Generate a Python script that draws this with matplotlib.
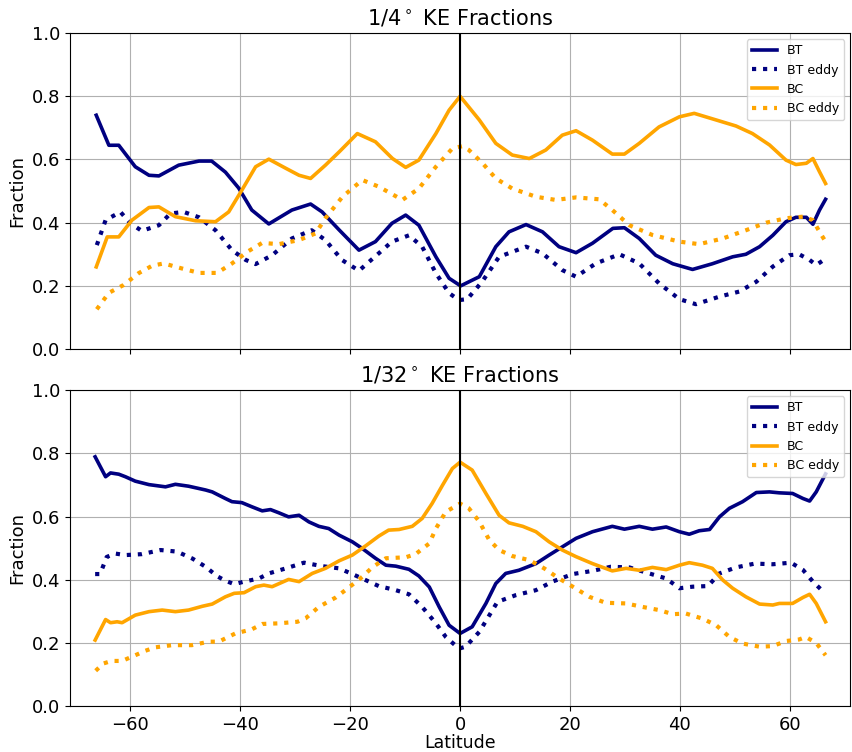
import matplotlib
matplotlib.use('Agg')
import matplotlib.pyplot as plt
import numpy as np

# ---- 1/4 degree run ----
lat_bt_q = [-66.2, -63.9, -62.1, -59.1, -56.6, -54.8, -51.2, -47.5, -45.2, -42.7, -40.3, -37.9,
            -34.8, -30.6, -27.2, -25.1, -22.0, -18.4, -15.4, -12.4, -9.9, -7.5, -4.4, -2.0, 0.1,
            3.5, 6.5, 8.9, 12.0, 15.0, 18.0, 21.1, 24.1, 27.8, 29.9, 32.6, 35.6, 38.7, 42.3,
            45.9, 49.6, 52.0, 54.5, 56.9, 59.3, 61.1, 63.0, 64.2, 65.4, 66.5]
bt_q = [0.74, 0.645, 0.645, 0.577, 0.55, 0.548, 0.582, 0.595, 0.595, 0.56, 0.51, 0.44,
        0.396, 0.44, 0.459, 0.434, 0.377, 0.313, 0.34, 0.398, 0.424, 0.392, 0.292, 0.224, 0.2,
        0.229, 0.324, 0.371, 0.394, 0.371, 0.324, 0.305, 0.335, 0.382, 0.384, 0.35, 0.297, 0.27, 0.252,
        0.27, 0.292, 0.3, 0.324, 0.36, 0.403, 0.417, 0.417, 0.395, 0.44, 0.474]

lat_bte_q = [-66.1, -64.5, -61.8, -60.0, -57.9, -54.8, -52.7, -50.3, -47.5, -44.5, -41.5, -39.0,
             -37.2, -34.2, -30.6, -27.0, -24.5, -21.5, -18.4, -14.8, -12.4, -9.3, -6.9, -4.4, -2.0,
             -0.2, 1.3, 4.0, 7.1, 12.0, 15.0, 18.6, 21.1, 24.7, 29.0, 32.6, 36.2, 39.9, 42.9,
             47.2, 50.8, 53.9, 56.9, 59.9, 61.7, 63.6, 64.8, 66.0]
bte_q = [0.329, 0.408, 0.434, 0.398, 0.374, 0.392, 0.429, 0.434, 0.417, 0.376, 0.313, 0.282,
         0.269, 0.297, 0.35, 0.376, 0.345, 0.282, 0.248, 0.303, 0.34, 0.36, 0.324, 0.24, 0.177,
         0.155, 0.158, 0.213, 0.292, 0.324, 0.303, 0.25, 0.229, 0.271, 0.3, 0.271, 0.208, 0.158, 0.142,
         0.166, 0.182, 0.213, 0.261, 0.297, 0.3, 0.282, 0.266, 0.28]

lat_bc_q = [-66.2, -64.2, -62.1, -59.7, -56.6, -54.8, -51.8, -48.1, -44.5, -42.1, -39.7, -37.2,
            -34.8, -31.7, -29.3, -27.2, -24.5, -22.0, -18.7, -15.4, -12.3, -9.9, -7.5, -4.4, -2.0,
            0.0, 3.5, 6.5, 9.5, 12.6, 15.6, 18.6, 21.1, 24.1, 27.7, 29.9, 32.6, 36.2, 39.9, 42.6,
            46.6, 50.2, 53.2, 56.3, 59.3, 61.1, 63.0, 64.2, 65.4, 66.5]
bc_q = [0.26, 0.355, 0.355, 0.408, 0.448, 0.45, 0.419, 0.406, 0.403, 0.434, 0.503, 0.577,
        0.601, 0.572, 0.55, 0.54, 0.582, 0.624, 0.682, 0.656, 0.603, 0.575, 0.598, 0.682, 0.756,
        0.80, 0.725, 0.651, 0.614, 0.603, 0.63, 0.677, 0.691, 0.661, 0.617, 0.617, 0.651, 0.703, 0.735, 0.746,
        0.725, 0.706, 0.682, 0.646, 0.598, 0.584, 0.588, 0.603, 0.561, 0.524]

lat_bce_q = [-66.1, -63.9, -61.2, -58.5, -56.0, -53.9, -50.6, -47.5, -44.2, -41.5, -38.7, -36.0,
             -33.0, -29.3, -26.3, -24.5, -21.4, -17.8, -14.8, -10.5, -7.5, -4.4, -1.4, 0.4,
             1.6, 4.1, 6.5, 9.5, 13.8, 17.4, 21.1, 25.3, 27.7, 30.8, 35.0, 39.9, 43.5,
             47.8, 52.0, 55.7, 59.3, 62.4, 64.2, 65.4, 66.5]
bce_q = [0.126, 0.178, 0.203, 0.24, 0.264, 0.271, 0.255, 0.241, 0.241, 0.271, 0.308, 0.336,
         0.332, 0.345, 0.366, 0.414, 0.482, 0.535, 0.514, 0.472, 0.508, 0.577, 0.635, 0.642,
         0.63, 0.588, 0.54, 0.508, 0.482, 0.472, 0.48, 0.474, 0.44, 0.392, 0.361, 0.34, 0.332,
         0.35, 0.376, 0.4, 0.414, 0.419, 0.408, 0.371, 0.34]

# ---- 1/32 degree run ----
lat_bt_t = [-66.4, -64.5, -63.6, -62.1, -60.9, -59.1, -56.6, -53.6, -51.8, -49.4, -46.3, -45.1,
            -42.7, -41.5, -39.7, -37.9, -36.0, -34.5, -33.0, -31.2, -29.3, -27.5, -25.7, -23.9,
            -22.0, -19.6, -17.8, -15.4, -13.5, -11.7, -9.3, -7.5, -5.6, -3.8, -2.0, 0.0,
            2.2, 4.7, 6.5, 8.3, 10.7, 13.8, 16.2, 18.6, 21.1, 24.1, 27.7, 29.9, 32.6, 35.0, 37.5,
            39.9, 41.7, 43.5, 45.4, 47.2, 49.0, 51.4, 53.9, 56.3, 58.1, 60.5, 62.4, 63.6, 64.8, 66.5]
bt_t = [0.789, 0.726, 0.738, 0.734, 0.726, 0.712, 0.701, 0.694, 0.702, 0.696, 0.684, 0.678,
        0.657, 0.647, 0.644, 0.631, 0.618, 0.622, 0.612, 0.599, 0.604, 0.583, 0.569, 0.562,
        0.541, 0.52, 0.499, 0.468, 0.446, 0.443, 0.433, 0.412, 0.377, 0.314, 0.256, 0.23,
        0.251, 0.325, 0.388, 0.42, 0.43, 0.451, 0.478, 0.504, 0.531, 0.552, 0.569, 0.56, 0.569, 0.56, 0.567,
        0.552, 0.544, 0.555, 0.559, 0.599, 0.626, 0.647, 0.676, 0.678, 0.675, 0.673, 0.657, 0.649, 0.678, 0.735]

lat_bte_t = [-66.4, -65.5, -64.3, -62.8, -60.9, -57.9, -54.5, -51.5, -48.7, -46.3, -44.2, -42.7,
             -41.1, -39.3, -36.6, -34.8, -31.7, -28.4, -25.1, -22.0, -19.6, -17.2, -14.8, -11.7,
             -9.3, -6.9, -4.4, -2.6, -0.2, 1.0, 3.5, 6.8, 10.1, 13.8, 16.8, 20.5, 24.1, 27.4,
             30.8, 34.4, 37.5, 39.9, 42.3, 45.1, 47.2, 50.2, 53.6, 56.9, 60.2, 62.4, 64.2, 66.1]
bte_t = [0.418, 0.418, 0.472, 0.483, 0.478, 0.481, 0.494, 0.489, 0.467, 0.441, 0.411, 0.397,
         0.386, 0.394, 0.404, 0.42, 0.436, 0.454, 0.443, 0.436, 0.418, 0.399, 0.38, 0.367,
         0.354, 0.314, 0.262, 0.219, 0.182, 0.188, 0.235, 0.33, 0.351, 0.367, 0.394, 0.418, 0.428, 0.441,
         0.439, 0.42, 0.404, 0.373, 0.378, 0.38, 0.42, 0.439, 0.451, 0.449, 0.454, 0.431, 0.394, 0.362]

lat_bc_t = [-66.4, -64.5, -63.6, -62.4, -61.5, -59.1, -56.6, -54.2, -51.8, -49.4, -46.9, -45.1,
            -42.7, -41.1, -39.3, -37.2, -35.7, -34.2, -31.2, -29.3, -26.9, -24.5, -22.0, -19.6,
            -17.2, -14.8, -13.0, -11.1, -8.7, -6.9, -5.1, -3.2, -1.4, 0.0,
            2.2, 4.7, 7.1, 8.9, 11.4, 13.8, 16.2, 18.6, 21.1, 24.1, 27.7, 30.2, 32.6, 35.0, 37.5,
            39.9, 41.7, 44.1, 45.9, 47.8, 49.6, 52.0, 54.5, 56.9, 58.1, 60.5, 62.4, 63.6, 64.8, 66.5]
bc_t = [0.209, 0.274, 0.264, 0.267, 0.264, 0.288, 0.299, 0.304, 0.299, 0.304, 0.316, 0.323,
        0.346, 0.357, 0.359, 0.378, 0.383, 0.378, 0.401, 0.394, 0.42, 0.436, 0.46, 0.478,
        0.507, 0.538, 0.557, 0.559, 0.569, 0.594, 0.641, 0.699, 0.752, 0.772,
        0.747, 0.673, 0.604, 0.58, 0.569, 0.552, 0.52, 0.494, 0.473, 0.451, 0.428, 0.436, 0.43, 0.439, 0.432,
        0.446, 0.454, 0.446, 0.436, 0.399, 0.373, 0.346, 0.323, 0.32, 0.325, 0.325, 0.344, 0.354, 0.325, 0.267]

lat_bce_t = [-66.3, -64.9, -63.4, -61.5, -59.1, -57.3, -55.5, -52.4, -48.8, -45.7, -43.9, -40.9,
             -37.9, -36.0, -33.0, -29.6, -28.1, -25.7, -22.6, -20.2, -17.8, -16.0, -13.5, -9.9,
             -8.1, -5.6, -4.4, -2.6, 0.0, 1.6, 3.5, 5.3, 7.1, 9.5, 12.6, 15.3, 18.0, 20.5, 23.5,
             26.5, 30.2, 33.2, 36.2, 38.7, 41.1, 44.1, 46.6, 49.0, 51.4, 54.5, 56.9, 59.3, 61.7,
             62.9, 64.8, 66.5]
bce_t = [0.112, 0.135, 0.143, 0.143, 0.161, 0.175, 0.186, 0.193, 0.193, 0.204, 0.204, 0.23,
         0.243, 0.26, 0.262, 0.267, 0.278, 0.314, 0.344, 0.376, 0.409, 0.439, 0.468, 0.471,
         0.481, 0.515, 0.562, 0.615, 0.641, 0.626, 0.584, 0.526, 0.494, 0.475, 0.462, 0.436, 0.404, 0.378, 0.346,
         0.327, 0.325, 0.314, 0.304, 0.291, 0.293, 0.277, 0.256, 0.219, 0.198, 0.188, 0.19, 0.206, 0.211,
         0.219, 0.2, 0.161]

titles = [r'1/4$^\circ$ KE Fractions', r'1/32$^\circ$ KE Fractions']
runs = [
    [(lat_bt_q, bt_q), (lat_bte_q, bte_q), (lat_bc_q, bc_q), (lat_bce_q, bce_q)],
    [(lat_bt_t, bt_t), (lat_bte_t, bte_t), (lat_bc_t, bc_t), (lat_bce_t, bce_t)],
]
labels = ['BT', 'BT eddy', 'BC', 'BC eddy']
colors = ['navy', 'navy', 'orange', 'orange']
styles = ['-', ':', '-', ':']

fig, axes = plt.subplots(2, 1, figsize=(8.52, 7.52), dpi=100, sharex=True)
fig.subplots_adjust(left=0.082, right=0.998, top=0.956, bottom=0.061, hspace=0.13)

for ax, title, series in zip(axes, titles, runs):
    for (lat, val), lab, c, ls in zip(series, labels, colors, styles):
        ax.plot(lat, val, color=c, linestyle=ls, linewidth=2.6 if ls == '-' else 3.0,
                label=lab, solid_joinstyle='round')
    ax.axvline(0, color='k', linewidth=1.5)
    ax.set_xlim(-71, 71)
    ax.set_ylim(0, 1)
    ax.set_yticks(np.arange(0, 1.01, 0.2))
    ax.grid(True)
    ax.set_title(title, fontsize=15)
    ax.set_ylabel('Fraction', fontsize=13)
    ax.tick_params(labelsize=13)
    ax.legend(loc='upper right', fontsize=9)

axes[1].set_xlabel('Latitude', fontsize=12.5, labelpad=0)

plt.savefig('out.png')
